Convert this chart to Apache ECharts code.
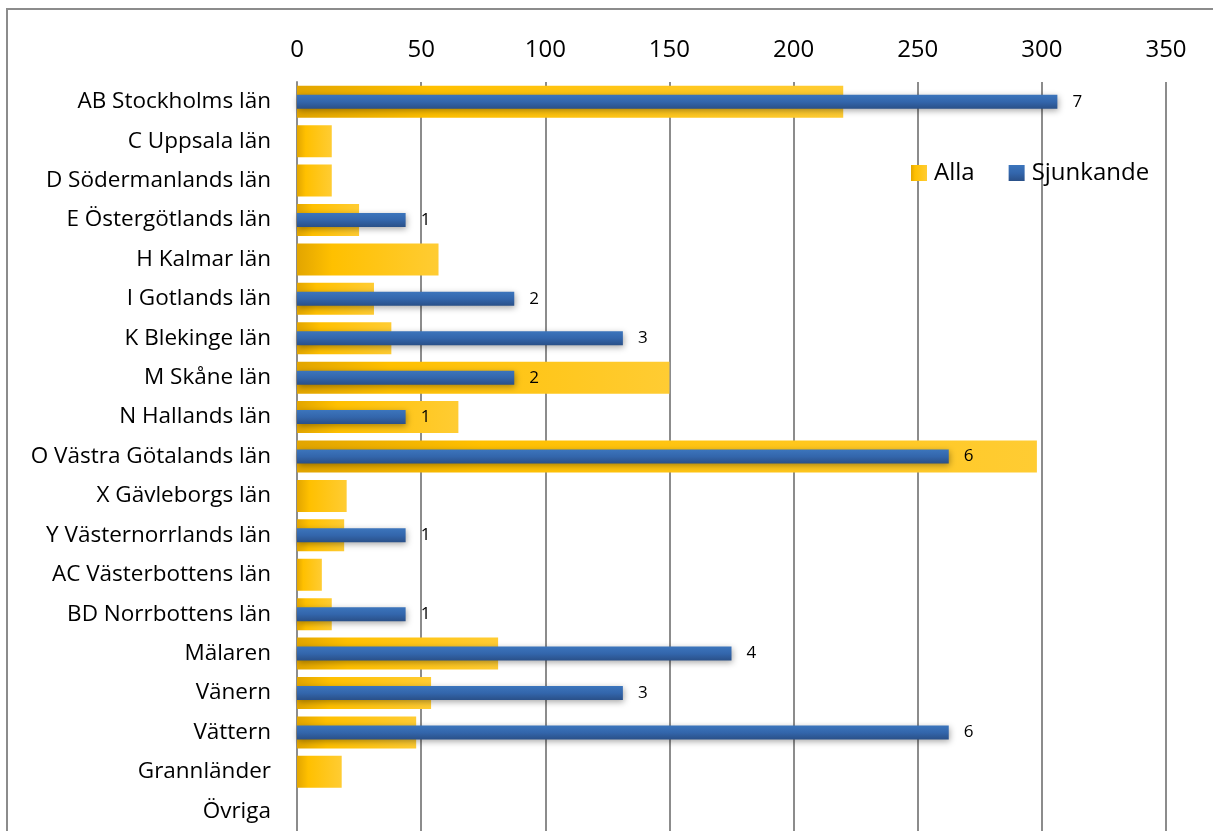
<!DOCTYPE html>
<html>
<head>
<meta charset="utf-8">
<script src="https://cdn.jsdelivr.net/npm/echarts@6/dist/echarts.min.js"></script>
<style>
  html, body { margin: 0; padding: 0; background: #fff; }
  #main { width: 1213px; height: 831px; }
</style>
</head>
<body>
<div id="main"></div>
<script>
var lan = ['AB Stockholms län', 'C Uppsala län', 'D Södermanlands län', 'E Östergötlands län',
    'H Kalmar län', 'I Gotlands län', 'K Blekinge län', 'M Skåne län', 'N Hallands län',
    'O Västra Götalands län', 'X Gävleborgs län', 'Y Västernorrlands län', 'AC Västerbottens län',
    'BD Norrbottens län', 'Mälaren', 'Vänern', 'Vättern', 'Grannländer', 'Övriga'];
var alla = [220, 14, 14, 25, 57, 31, 38, 150, 65, 298, 20, 19, 10, 14, 81, 54, 48, 18, 0];
var sjunkande = [7, 0, 0, 1, 0, 2, 3, 2, 1, 6, 0, 1, 0, 1, 4, 3, 6, 0, 0];
var skala = [0, 50, 100, 150, 200, 250, 300, 350];

var font = 'Open Sans';
var myChart = echarts.init(document.getElementById('main'));
option = {
    backgroundColor: '#fff',
    textStyle: { fontFamily: font },
    graphic: [
        {
            type: 'rect',
            shape: { x: 7, y: 9, width: 1300, height: 900 },
            style: { fill: 'none', stroke: '#8c8c8c', lineWidth: 2 },
            silent: true
        }
    ],
    legend: {
        left: 906,
        top: 156,
        icon: 'rect',
        itemWidth: 16,
        itemHeight: 16,
        itemGap: 34,
        textStyle: { fontSize: 24, color: '#000', fontFamily: font, padding: [0, 0, 0, 2] },
        data: ['Alla', 'Sjunkande']
    },
    grid: { left: 297, right: 47, top: 82, bottom: 0 },
    xAxis: [
        {
            type: 'value',
            position: 'top',
            min: skala[0],
            max: skala[skala.length - 1],
            interval: 50,
            axisLine: { show: false },
            axisTick: { show: false },
            axisLabel: { fontSize: 24, color: '#000', margin: 20 },
            splitLine: { lineStyle: { color: '#8c8c8c', width: 2 } }
        },
        {
            type: 'value',
            min: 0,
            max: 8,
            show: false
        }
    ],
    yAxis: [
        {
            type: 'category',
            inverse: true,
            data: lan,
            axisLine: { lineStyle: { color: '#8c8c8c', width: 2 } },
            axisTick: { show: false },
            axisLabel: { fontSize: 22.5, color: '#000', margin: 26 }
        },
        {
            type: 'category',
            inverse: true,
            data: lan,
            show: false
        }
    ],
    series: [
        {
            name: 'Alla',
            type: 'bar',
            xAxisIndex: 0,
            yAxisIndex: 0,
            barWidth: 32,
            data: alla,
            itemStyle: {
                color: new echarts.graphic.LinearGradient(0, 0, 1, 0, [
                    { offset: 0, color: '#E2A500' },
                    { offset: 0.25, color: '#FFC000' },
                    { offset: 1, color: '#FFCC33' }
                ])
            }
        },
        {
            name: 'Sjunkande',
            type: 'bar',
            xAxisIndex: 1,
            yAxisIndex: 1,
            barWidth: 14,
            data: sjunkande,
            itemStyle: {
                color: new echarts.graphic.LinearGradient(0, 0, 0, 1, [
                    { offset: 0, color: '#3C75BC' },
                    { offset: 0.5, color: '#3366AC' },
                    { offset: 1, color: '#2A5088' }
                ]),
                shadowColor: 'rgba(0, 0, 0, 0.35)',
                shadowBlur: 6,
                shadowOffsetX: 1,
                shadowOffsetY: 2
            },
            label: {
                show: true,
                position: 'right',
                distance: 15,
                fontSize: 17,
                color: '#000',
                formatter: function (p) { return p.value ? p.value : ''; }
            }
        }
    ]
};
myChart.setOption(option);
</script>
</body>
</html>
